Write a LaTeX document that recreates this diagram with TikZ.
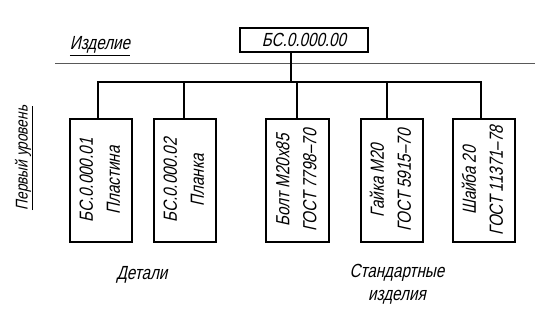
\documentclass[tikz,border=0pt]{standalone}
\usepackage{fontspec}
\setmainfont{Liberation Sans}[FakeSlant=0.22,FakeStretch=0.8]
\begin{document}
\begin{tikzpicture}[x=1pt,y=-1pt,
  thick line/.style={line width=1.6pt},
  thin line/.style={line width=0.8pt,draw=black!65},
  boxnode/.style={draw=black,line width=1.6pt,inner sep=0pt,minimum width=62pt,minimum height=123pt,font=\fontsize{19}{27}\selectfont},
  topbox/.style={draw=black,line width=1.6pt,inner sep=0pt,minimum width=128pt,minimum height=24pt,font=\fontsize{19}{20}\selectfont},
  lbl/.style={inner sep=0pt,font=\fontsize{19}{23}\selectfont,align=center}]
\useasboundingbox (0,0) rectangle (549,314);
\newcommand{\boxtext}[2]{\rotatebox{90}{\begin{tabular}{@{}c@{}}#1\\#2\end{tabular}}}
% top
\node[topbox] (top) at (304,40) {БС.0.000.00};
\node[lbl] (izd) at (100,46) {\underline{Изделие}};
\coordinate (tl) at (55,63);
\coordinate (tr) at (535,63);
\draw[thin line] (tl) -- (tr);
% boxes
\node[boxnode] (b1) at (101,180.5) {\boxtext{БС.0.000.01}{Пластина}};
\node[boxnode] (b2) at (185,180.5) {\boxtext{БС.0.000.02}{Планка}};
\node[boxnode,minimum width=63pt] (b3) at (297.5,180.5) {\boxtext{Болт М20х85}{ГОСТ 7798–70}};
\node[boxnode] (b4) at (392,180.5) {\boxtext{Гайка М20}{ГОСТ 5915–70}};
\node[boxnode] (b5) at (484,180.5) {\boxtext{Шайба 20}{ГОСТ 11371–78}};
% bar
\coordinate (s0) at (291,82);
\coordinate (s1) at (98,82);
\coordinate (s2) at (184,82);
\coordinate (s3) at (297,82);
\coordinate (s4) at (387,82);
\coordinate (s5) at (481,82);
\draw[thick line] (s0 |- top.south) -- (s0);
\draw[thick line] (s1 |- b1.north) -- (s1) -- (s5) -- (s5 |- b5.north);
\draw[thick line] (s2) -- (s2 |- b2.north);
\draw[thick line] (s3) -- (s3 |- b3.north);
\draw[thick line] (s4) -- (s4 |- b4.north);
% labels
\node[lbl,rotate=90,font=\fontsize{17}{20}\selectfont] (lev) at (24,158) {\underline{Первый уровень}};
\node[lbl] (det) at (142,275) {Детали};
\node[lbl] (std) at (397,284) {Стандартные\\изделия};
\end{tikzpicture}
\end{document}
